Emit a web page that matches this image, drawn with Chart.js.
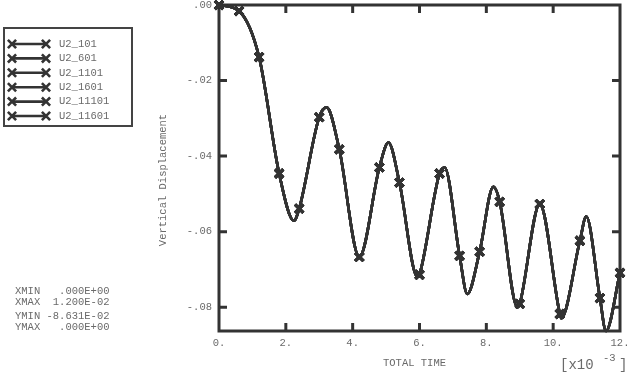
<!DOCTYPE html>
<html>
<head>
<meta charset="utf-8">
<script src="https://cdn.jsdelivr.net/npm/chart.js@4.4.0/dist/chart.umd.min.js"></script>
<style>
body { margin: 0; background: #fff; }
#wrap { position: relative; width: 630px; height: 373px; }
</style>
</head>
<body>
<div id="wrap"><canvas id="abaqusChart" width="630" height="373"></canvas></div>
<script>
var seriesNames = ['U2_101', 'U2_601', 'U2_1101', 'U2_1601', 'U2_11101', 'U2_11601'];

// total time (x10^-3) and vertical displacement
var time = [0, 0.6, 1.2, 1.8, 2.24, 2.4, 3.0, 3.22, 3.6, 4.2, 4.8, 5.07, 5.4, 5.94, 6.0, 6.6, 6.75, 7.2, 7.43, 7.8, 8.21, 8.4, 8.93, 9.0, 9.6, 10.2, 10.24, 10.8, 10.99, 11.4, 11.58, 12.0];
var u2 = [0, -0.0016, -0.0138, -0.0446, -0.0571, -0.0539, -0.0297, -0.0271, -0.0382, -0.0667, -0.0430, -0.0364, -0.0470, -0.0720, -0.0714, -0.0446, -0.0430, -0.0664, -0.0765, -0.0653, -0.0481, -0.0521, -0.0800, -0.0791, -0.0527, -0.0818, -0.0829, -0.0624, -0.0560, -0.0776, -0.0863, -0.0709];
var markerTime = [0, 0.6, 1.2, 1.8, 2.4, 3.0, 3.6, 4.2, 4.8, 5.4, 6.0, 6.6, 7.2, 7.8, 8.4, 9.0, 9.6, 10.2, 10.8, 11.4, 12.0];

var xTicks = [0, 2, 4, 6, 8, 10, 12];
var yTicks = [0, -0.02, -0.04, -0.06, -0.08];
var limitsText = ['XMIN   .000E+00', 'XMAX  1.200E-02', 'YMIN -8.631E-02', 'YMAX   .000E+00'];

var ink = '#333';
var grey = '#6a6a6a';
var mono = 'Liberation Mono';
var markR = 5.8;
var markW = 3;

var points = [];
for(var i = 0; i < time.length; i++) {
	points.push({ x: time[i], y: u2[i] });
}

var datasets = seriesNames.map(function(name) {
	return {
		label: name,
		data: points,
		borderColor: ink,
		backgroundColor: ink,
		borderWidth: 2.6,
		cubicInterpolationMode: 'monotone',
		pointStyle: 'crossRot',
		pointRadius: function(c) {
			return markerTime.indexOf(c.raw.x) >= 0 ? markR : 0;
		},
		pointBorderWidth: markW,
		clip: false
	};
});

function noPad(s) {
	s.paddingTop = 0;
	s.paddingBottom = 0;
	s.paddingLeft = 0;
	s.paddingRight = 0;
}

function drawTicksAndFrame(chart) {
	var ctx = chart.ctx;
	var a = chart.chartArea;
	var xs = chart.scales.x;
	var ys = chart.scales.y;
	ctx.save();
	ctx.strokeStyle = ink;
	ctx.lineWidth = 3;
	ctx.strokeRect(a.left, a.top, a.right - a.left, a.bottom - a.top);
	ctx.beginPath();
	for(var v of xTicks) {
		if(v == xs.min || v == xs.max) continue;
		var px = xs.getPixelForValue(v);
		ctx.moveTo(px, a.top); ctx.lineTo(px, a.top + 8);
		ctx.moveTo(px, a.bottom); ctx.lineTo(px, a.bottom - 8);
	}
	for(var w of yTicks) {
		if(w == ys.max || w == ys.min) continue;
		var py = ys.getPixelForValue(w);
		ctx.moveTo(a.left, py); ctx.lineTo(a.left + 8, py);
		ctx.moveTo(a.right, py); ctx.lineTo(a.right - 8, py);
	}
	ctx.stroke();
	ctx.restore();
}

function drawTexts(chart) {
	var ctx = chart.ctx;
	ctx.save();
	ctx.fillStyle = grey;
	ctx.font = '10.5px "' + mono + '"';
	ctx.textBaseline = 'middle';

	ctx.save();
	ctx.translate(163, 180);
	ctx.rotate(-Math.PI / 2);
	ctx.textAlign = 'center';
	ctx.fillText('Vertical Displacement', 0, 0);
	ctx.restore();

	ctx.textAlign = 'left';
	ctx.fillText('TOTAL TIME', 383, 363);
	ctx.font = '14px "' + mono + '"';
	ctx.fillText('[x10', 560, 365);
	ctx.fillText(']', 619, 365);
	ctx.font = '10.5px "' + mono + '"';
	ctx.fillText('-3', 603, 358);

	var ly = [291, 302, 316, 327];
	for(var i = 0; i < limitsText.length; i++) {
		ctx.fillText(limitsText[i], 15, ly[i]);
	}

	// legend box
	ctx.strokeStyle = '#444';
	ctx.lineWidth = 2;
	ctx.strokeRect(4, 28, 128, 98);
	for(var j = 0; j < seriesNames.length; j++) {
		var y = 44 + j * 14.4;
		ctx.strokeStyle = ink;
		ctx.lineWidth = 2.6;
		ctx.beginPath();
		ctx.moveTo(12, y); ctx.lineTo(46, y);
		ctx.stroke();
		Chart.helpers.drawPoint(ctx, { pointStyle: 'crossRot', radius: markR, borderWidth: markW }, 12, y);
		Chart.helpers.drawPoint(ctx, { pointStyle: 'crossRot', radius: markR, borderWidth: markW }, 46, y);
		ctx.fillStyle = grey;
		ctx.fillText(seriesNames[j], 59, y);
	}
	ctx.restore();
}

var framePlugin = {
	id: 'frame',
	beforeDatasetsDraw: function(chart) { drawTicksAndFrame(chart); },
	afterDraw: function(chart) { drawTexts(chart); }
};

var chart = new Chart(document.getElementById('abaqusChart').getContext('2d'), {
	type: 'line',
	data: { datasets: datasets },
	plugins: [framePlugin],
	options: {
		responsive: false,
		animation: false,
		events: [],
		layout: { autoPadding: false, padding: { left: 0, top: 5, right: 10, bottom: 0 } },
		plugins: { legend: { display: false }, tooltip: { enabled: false } },
		scales: {
			x: {
				type: 'linear',
				min: 0,
				max: 12,
				afterBuildTicks: function(s) { s.ticks = xTicks.map(function(v) { return { value: v }; }); },
				afterFit: function(s) { s.height = 42; noPad(s); },
				ticks: {
					callback: function(v) { return v + '.'; },
					font: { family: mono, size: 10.5 },
					color: grey,
					padding: 6,
					maxRotation: 0,
					autoSkip: false
				},
				grid: { display: false, drawTicks: false },
				border: { display: false }
			},
			y: {
				type: 'linear',
				min: -0.0863,
				max: 0,
				afterBuildTicks: function(s) { s.ticks = yTicks.map(function(v) { return { value: v }; }); },
				afterFit: function(s) { s.width = 219; noPad(s); },
				ticks: {
					callback: function(v) { return v.toFixed(2).replace('0.', '.'); },
					font: { family: mono, size: 10.5 },
					color: grey,
					padding: 7,
					autoSkip: false
				},
				grid: { display: false, drawTicks: false },
				border: { display: false }
			}
		}
	}
});
</script>
</body>
</html>
